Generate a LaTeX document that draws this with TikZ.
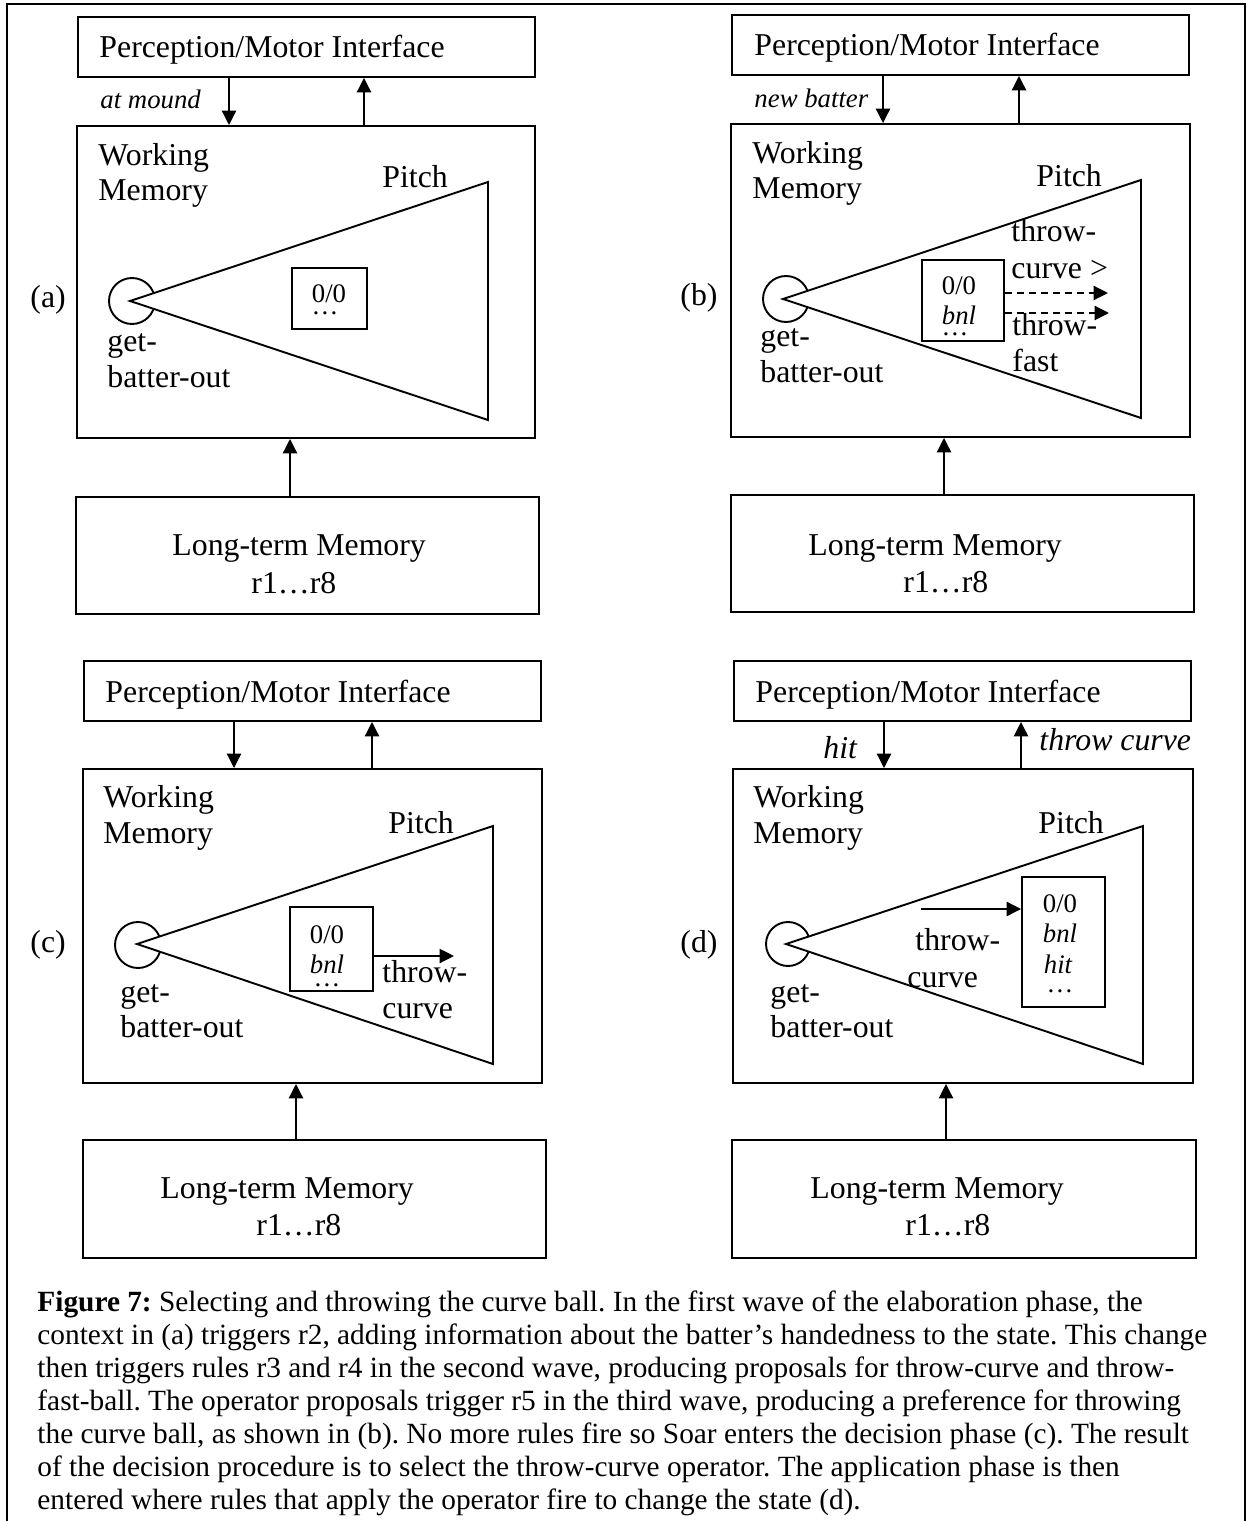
\documentclass[tikz,border=0pt]{standalone}
\usepackage{fontspec}
\setmainfont{Liberation Serif}
\usetikzlibrary{arrows.meta,fit}
\frenchspacing
\tikzset{
  box/.style={draw, line width=0.8pt, inner sep=0pt},
  lbl/.style={anchor=base west, inner sep=0pt, font=\fontsize{13.3pt}{15pt}\selectfont},
  ilbl/.style={lbl, font=\fontsize{13.3pt}{15pt}\selectfont\itshape},
  slbl/.style={anchor=base west, inner sep=0pt, font=\fontsize{11.2pt}{13pt}\selectfont\itshape},
  stxt/.style={anchor=base, inner sep=0pt, font=\fontsize{11.2pt}{13pt}\selectfont},
  sitxt/.style={stxt, font=\fontsize{11.2pt}{13pt}\selectfont\itshape},
  captxt/.style={anchor=base west, inner sep=0pt, font=\fontsize{12.27pt}{14pt}\selectfont},
  arr/.style={line width=0.8pt, -{Triangle[length=6pt,width=5.9pt]}},
  darr/.style={arr, dash pattern=on 3pt off 2pt},
  tri/.style={draw, line width=0.8pt, fill=white, line join=miter},
  opcirc/.style={draw, line width=0.8pt},
}
\begin{document}
\begin{tikzpicture}[x=0.4184pt, y=-0.4184pt]
\useasboundingbox (0,0) rectangle (1248,1521);
% outer frame, open at the foot of the page
\draw[line width=0.9pt] (7,1521) -- (7,4) -- (1245,4) -- (1245,1521);

% ---------------- panel (a) ----------------
\node[box, fit={(78,17) (535,77)}] (pmiA) {};
\node[lbl] (pmiAt) at (99,58) {Perception/Motor Interface};
\node[box, fit={(77,126) (535,438)}] (wmA) {};
\node[box, fit={(76,497) (539,614)}] (ltmA) {};
\draw[arr] (pmiA.south -| 229,0) -- (wmA.north -| 229,0);
\draw[arr] (wmA.north -| 364,0) -- (pmiA.south -| 364,0);
\draw[arr] (ltmA.north -| 290,0) -- (wmA.south -| 290,0);
\node[slbl] (inA) at (100,109) {at mound};
\node[lbl] (wmA1) at (98,166) {Working};
\node[lbl] (wmA2) at (98,201) {Memory};
\node[lbl] (pitchA) at (382,188) {Pitch};
\draw[opcirc] (132,301) circle[radius=23];
\draw[tri] (130,301) -- (488,182) -- (488,420) -- cycle;
\node[box, fit={(292,268) (367,329)}] (stA) {};
\node[stxt] (stA1) at (329,303) {0/0};
\node[stxt] (stA2) at (325,315) {…};
\node[lbl] (opA1) at (107,352) {get-};
\node[lbl] (opA2) at (107,388) {batter-out};
\node[lbl] (tagA) at (30,308) {(a)};
\node[lbl] (ltmA1) at (172,555) {Long-term Memory};
\node[lbl] (ltmA2) at (251,593) {r1…r8};

% ---------------- panel (b) ----------------
\node[box, fit={(732,15) (1189,75)}] (pmiB) {};
\node[lbl] (pmiBt) at (754,56) {Perception/Motor Interface};
\node[box, fit={(731,124) (1190,437)}] (wmB) {};
\node[box, fit={(731,495) (1194,612)}] (ltmB) {};
\draw[arr] (pmiB.south -| 883,0) -- (wmB.north -| 883,0);
\draw[arr] (wmB.north -| 1019,0) -- (pmiB.south -| 1019,0);
\draw[arr] (ltmB.north -| 944,0) -- (wmB.south -| 944,0);
\node[slbl] (inB) at (754,108) {new batter};
\node[lbl] (wmB1) at (752,164) {Working};
\node[lbl] (wmB2) at (752,199) {Memory};
\node[lbl] (pitchB) at (1036,187) {Pitch};
\draw[opcirc] (786,299) circle[radius=23];
\draw[tri] (783,299) -- (1141,180) -- (1141,418) -- cycle;
\node[box, fit={(922,260) (1004,341)}] (stB) {};
\node[stxt] (stB1) at (959,295) {0/0};
\node[sitxt] (stB2) at (959,325) {bnl};
\node[stxt] (stB3) at (955,336) {…};
\coordinate (tipB1) at (1108,293);
\coordinate (tipB2) at (1109,313);
\draw[darr] (stB.east |- tipB1) -- (tipB1);
\draw[darr] (stB.east |- tipB2) -- (tipB2);
\node[lbl] (opB1) at (1011,242) {throw-};
\node[lbl] (opB2) at (1011,279) {curve >};
\node[lbl] (opB3) at (1012,336) {throw-};
\node[lbl] (opB4) at (1012,372) {fast};
\node[lbl] (opB5) at (760,347) {get-};
\node[lbl] (opB6) at (760,383) {batter-out};
\node[lbl] (tagB) at (680,306) {(b)};
\node[lbl] (ltmB1) at (808,555) {Long-term Memory};
\node[lbl] (ltmB2) at (903,592) {r1…r8};

% ---------------- panel (c) ----------------
\node[box, fit={(84,661) (541,721)}] (pmiC) {};
\node[lbl] (pmiCt) at (105,702) {Perception/Motor Interface};
\node[box, fit={(83,769) (542,1083)}] (wmC) {};
\node[box, fit={(83,1140) (546,1258)}] (ltmC) {};
\draw[arr] (pmiC.south -| 234,0) -- (wmC.north -| 234,0);
\draw[arr] (wmC.north -| 372,0) -- (pmiC.south -| 372,0);
\draw[arr] (ltmC.north -| 296,0) -- (wmC.south -| 296,0);
\node[lbl] (wmC1) at (103,807) {Working};
\node[lbl] (wmC2) at (103,843) {Memory};
\node[lbl] (pitchC) at (388,833) {Pitch};
\draw[opcirc] (138,945) circle[radius=23];
\draw[tri] (137,944) -- (493,826) -- (493,1064) -- cycle;
\node[box, fit={(290,907) (373,991)}] (stC) {};
\node[stxt] (stC1) at (327,943) {0/0};
\node[sitxt] (stC2) at (327,973) {bnl};
\node[stxt] (stC3) at (327,986) {…};
\coordinate (tipC) at (454,956);
\draw[arr] (stC.east |- tipC) -- (tipC);
\node[lbl] (opC1) at (382,982) {throw-};
\node[lbl] (opC2) at (382,1018) {curve};
\node[lbl] (opC3) at (120,1002) {get-};
\node[lbl] (opC4) at (120,1037) {batter-out};
\node[lbl] (tagC) at (30,952) {(c)};
\node[lbl] (ltmC1) at (160,1198) {Long-term Memory};
\node[lbl] (ltmC2) at (256,1235) {r1…r8};

% ---------------- panel (d) ----------------
\node[box, fit={(734,661) (1191,721)}] (pmiD) {};
\node[lbl] (pmiDt) at (755,702) {Perception/Motor Interface};
\node[box, fit={(733,769) (1193,1083)}] (wmD) {};
\node[box, fit={(732,1140) (1196,1258)}] (ltmD) {};
\draw[arr] (pmiD.south -| 884,0) -- (wmD.north -| 884,0);
\draw[arr] (wmD.north -| 1021,0) -- (pmiD.south -| 1021,0);
\draw[arr] (ltmD.north -| 946,0) -- (wmD.south -| 946,0);
\node[ilbl] (inD) at (823,758) {hit};
\node[ilbl] (outD) at (1039,750) {throw curve};
\node[lbl] (wmD1) at (753,807) {Working};
\node[lbl] (wmD2) at (753,843) {Memory};
\node[lbl] (pitchD) at (1038,833) {Pitch};
\draw[opcirc] (788,944) circle[radius=22];
\draw[tri] (786,944) -- (1143,826) -- (1143,1064) -- cycle;
\node[box, fit={(1022,877) (1105,1007)}] (stD) {};
\node[stxt] (stD1) at (1060,912) {0/0};
\node[sitxt] (stD2) at (1060,942) {bnl};
\node[sitxt] (stD3) at (1058,973) {hit};
\node[stxt] (stD4) at (1060,992) {…};
\coordinate (srcD) at (921,909);
\draw[arr] (srcD) -- (stD.west |- srcD);
\node[lbl] (opD1) at (915,950) {throw-};
\node[lbl] (opD2) at (907,987) {curve};
\node[lbl] (opD3) at (770,1002) {get-};
\node[lbl] (opD4) at (770,1037) {batter-out};
\node[lbl] (tagD) at (680,952) {(d)};
\node[lbl] (ltmD1) at (810,1198) {Long-term Memory};
\node[lbl] (ltmD2) at (905,1235) {r1…r8};

% ---------------- caption ----------------
\node[captxt] (cap1) at (37,1311) {\textbf{Figure 7:} Selecting and throwing the curve ball. In the first wave of the elaboration phase, the};
\node[captxt] (cap2) at (37,1344) {context in (a) triggers r2, adding information about the batter’s handedness to the state. This change};
\node[captxt] (cap3) at (37,1377) {then triggers rules r3 and r4 in the second wave, producing proposals for throw-curve and throw-};
\node[captxt] (cap4) at (37,1410) {fast-ball. The operator proposals trigger r5 in the third wave, producing a preference for throwing};
\node[captxt] (cap5) at (37,1443) {the curve ball, as shown in (b). No more rules fire so Soar enters the decision phase (c). The result};
\node[captxt] (cap6) at (37,1476) {of the decision procedure is to select the throw-curve operator. The application phase is then};
\node[captxt] (cap7) at (37,1509) {entered where rules that apply the operator fire to change the state (d).};
\end{tikzpicture}
\end{document}
